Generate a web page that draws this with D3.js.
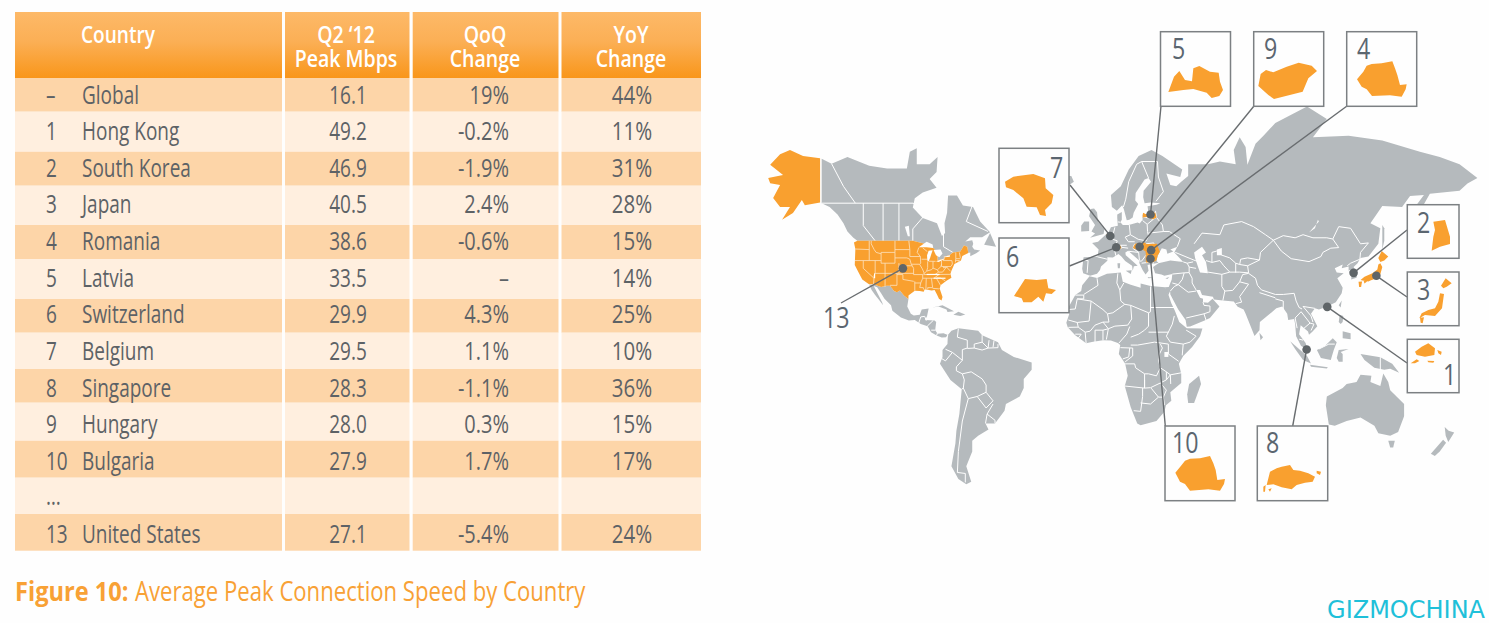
<!DOCTYPE html>
<html>
<head>
<meta charset="utf-8">
<title>Average Peak Connection Speed by Country</title>
<script src="https://cdnjs.cloudflare.com/ajax/libs/d3/7.8.5/d3.min.js"></script>
<style>
  html, body { margin: 0; padding: 0; background: #fefefe; }
  svg { display: block; }
  text { font-family: "Open Sans", sans-serif; }
</style>
</head>
<body>
<script>
// table values
var ranks = ["–", "1", "2", "3", "4", "5", "6", "7", "8", "9", "10", "…", "13"];
var countries = ["Global", "Hong Kong", "South Korea", "Japan", "Romania", "Latvia", "Switzerland", "Belgium", "Singapore", "Hungary", "Bulgaria", "", "United States"];
var peakMbps = [16.1, 49.2, 46.9, 40.5, 38.6, 33.5, 29.9, 29.5, 28.3, 28.0, 27.9, null, 27.1];
var qoqChange = ["19%", "-0.2%", "-1.9%", "2.4%", "-0.6%", "–", "4.3%", "1.1%", "-1.1%", "0.3%", "1.7%", "", "-5.4%"];
var yoyChange = ["44%", "11%", "31%", "28%", "15%", "14%", "25%", "10%", "36%", "15%", "17%", "", "24%"];

// band edges of the rows are not even in the original
var rowEdges = [78, 111.7, 151.7, 185.7, 225, 259, 299, 332.7, 369, 402.7, 440.7, 477.7, 514, 550.7];
var columns = [[15, 282], [285, 409.5], [412.7, 558.5], [561.5, 701]];

// map outlines, lon/lat
var landOutlines = [
  // canada
  [[-141,69.5],[-136,68.6],[-128,69.8],[-117,68.2],[-108,67.7],[-98,67.7],[-96.5,70.7],[-93,71.3],[-93,68.5],[-86.5,68.5],[-82.5,69.8],[-83,67],[-86.5,65.6],[-83,63.7],[-90,62.6],[-94,61.2],[-95,58.9],[-90,56],[-82.8,54.5],[-80.3,50.6],[-78.7,51.5],[-79,54.5],[-77.7,57.5],[-77.2,61.9],[-72.7,61.9],[-69.7,59.4],[-64.6,59],[-61,55],[-56,51.8],[-60,50.2],[-66,50.2],[-68.5,48.8],[-65,49.2],[-64.5,48],[-65,47],[-64,46],[-61,45.7],[-63,44.7],[-66,43.6],[-66,45],[-67,44.8],[-67.5,47],[-69.2,47.4],[-71,45.3],[-74.8,45],[-76.5,44],[-79,43.5],[-79,42.8],[-82.5,42],[-82.5,45],[-84.5,46.5],[-89,48],[-95,49],[-123,49],[-125,50],[-128,52],[-130,54.5],[-133,57],[-137,59],[-141,60]],
  // mexico and central america
  [[-117.1,32.5],[-115.8,30],[-114.2,28],[-112,25.5],[-110,23],[-110.5,24.5],[-112.5,28],[-114.7,31.7],[-113,31.2],[-111,28.5],[-109.3,26],[-106,23],[-105.3,20.5],[-101,17.2],[-97,15.8],[-94,16],[-91,14],[-87.5,13],[-85.8,10],[-83,8.3],[-80.4,7.3],[-78.2,7.5],[-77.3,8.6],[-79.5,9.5],[-82.5,9.2],[-83.7,11],[-83.2,15],[-84,15.8],[-88.8,16],[-87.8,18],[-87,21.5],[-90.5,21],[-91.5,18.5],[-94.5,18.2],[-96,19],[-97.8,22.5],[-97.2,25.9],[-99.5,27.5],[-101.5,29.8],[-103,29],[-104.5,29.5],[-106.5,31.8],[-108.2,31.8],[-111,31.3],[-114.8,32.5]],
  // south america
  [[-77.3,8.6],[-75.5,10.7],[-72,12],[-68,11.5],[-62,10.7],[-60,8.5],[-52,5],[-50,1],[-44,-2.5],[-35,-5.3],[-35,-9],[-39,-13.5],[-39,-18],[-41,-22],[-48,-25.5],[-48.7,-28.5],[-53.5,-34],[-58.3,-34],[-56.8,-36.5],[-62,-39],[-65,-41],[-65,-45],[-68,-50],[-65.5,-54.8],[-68,-55.5],[-72,-54],[-75.5,-50],[-73.5,-42],[-73,-37],[-71.5,-30],[-70.3,-18.5],[-76,-14],[-81.3,-6],[-80,-2.5],[-80,1],[-77.5,4]],
  // africa
  [[-5.8,35.8],[-2,35.1],[3,36.8],[10,37.3],[11,33.5],[15,32.3],[20,31],[20,32.8],[25,31.7],[32.3,31.2],[34,28],[35.5,24],[37.3,20.5],[39.5,15],[43.3,12],[51.2,11.8],[50,8],[46,2.5],[41.5,-2],[39.3,-6],[40.5,-11],[40.5,-15.5],[35,-20],[35.5,-24],[32.8,-26],[32,-29],[28,-33],[20,-34.8],[18.3,-34],[15,-27],[12,-17],[13.5,-12],[12.2,-6],[9,-1],[9.7,3.5],[8.5,4.6],[5,5.8],[1,6],[-4,5.2],[-7.5,4.4],[-13,8.5],[-16.8,12.5],[-17.5,14.7],[-16,19],[-17,21],[-13,27.7],[-10,29.5],[-9.5,32]],
  // eurasia
  [[-9,37],[-9.5,38.8],[-8.8,43.2],[-1.8,43.4],[-1.2,46],[-4.5,48.3],[-1.5,48.7],[1.5,50.5],[4,52],[5,53.3],[8.5,53.8],[8.2,56],[8.2,57],[10.5,57.7],[10.5,55.5],[9.8,54.8],[11,54],[14,54],[18.5,54.7],[19.5,54.4],[21,55.5],[21,57],[24,57.2],[23.5,59.2],[28,59.6],[30,60],[25,60.2],[22,60],[21.3,61.5],[21.5,63],[25.3,65],[24,65.8],[22,65.5],[17.5,62.5],[17.3,60.7],[18.8,59.8],[16.5,57.5],[16,56.2],[14.3,55.5],[13,55.4],[11.5,58.5],[10.7,59.5],[8,58],[5.5,59],[5,62],[10,64],[14,67.5],[19,70],[25.5,71],[31,70],[41,67.5],[40,66],[33,66.7],[35,64.3],[38,64],[40.5,65],[44,66.2],[44,68.5],[54,68.5],[60,69],[68,68.5],[67,71],[70,73],[73,71.5],[74,68],[72,66.5],[78,72],[82,73.2],[88,75],[104,77],[114,75.5],[107,73],[125,73.2],[142,72.5],[161,70.7],[171,69.8],[181,68.5],[190,65.8],[185,64.6],[181,63],[166,62.3],[163,59.7],[162,55],[156.7,51],[155.7,57],[163,62],[156,61.8],[152,59],[142,59.3],[136,54.5],[141,53],[140,48],[135,43.5],[131,43],[129.5,41],[127.5,39.5],[129.4,37],[129,35.2],[126.3,34.5],[126.5,37],[125,38],[125,39.7],[121.5,39],[122,40.5],[118,39],[119,37.3],[122.5,37],[119.3,35],[122,31],[121.5,28.5],[118.5,24.5],[114,22.3],[110,21],[108,21.6],[106,19],[109.2,13],[106.8,10.3],[105,8.7],[104.5,10.3],[100.8,13.5],[100,9],[103.3,4.5],[104.2,1.4],[101,3],[98.5,8],[98,14],[97.5,16.5],[94.5,16],[94,19],[91.5,22.5],[88.5,21.7],[86.5,20],[80.2,15],[80,11],[77.5,8.1],[73,19],[72,21],[69,22.3],[67,24.8],[61.5,25.2],[57,25.7],[56.5,27],[51,27.8],[50,30],[48,30],[50,26.5],[51.5,26],[51.5,24.5],[54,24.2],[56.3,26],[59.8,22.5],[55,17],[52,15.6],[45,12.8],[43.3,12.7],[42.7,16],[39,21],[35,28],[34.9,29.5],[34,27.8],[32.6,29.9],[32.3,31.2],[34.2,31.3],[35.7,34.5],[36,36.7],[32,36],[30.5,36.5],[27.3,37],[26.3,39.5],[29,41],[35,42],[41.5,41.5],[37,45],[38.5,47],[35,46],[36.5,45.3],[33.5,44.5],[33,46],[30.7,46.5],[28.7,44],[28,41.8],[29,41.2],[26,40.7],[23.5,40.3],[24,38],[22.5,36.5],[21,38.3],[19.4,41],[19.3,42],[13.7,45.6],[12.3,45],[12.5,44],[16,41.7],[18.5,40],[16.6,39.8],[16,38],[15.7,40],[12.2,41.8],[10.3,43.5],[8.8,44.4],[6,43.1],[3.2,43.2],[3.2,41.9],[0,39.7],[-0.5,38.3],[-2,36.8],[-5.5,36]],
  // australia, new guinea
  [[114,-22],[113.5,-26],[115,-34.5],[118,-35],[124,-33],[131,-31.5],[138,-35],[140,-38],[146,-39],[150,-37.5],[153,-31],[153,-25.5],[146,-19],[145,-15],[142.5,-10.8],[141,-17],[136,-15],[136.5,-12],[131,-11.5],[129,-15],[124,-16],[122,-18]],
  [[131,-1],[141,-2.6],[147,-6],[150.5,-10.5],[146,-8.5],[143,-9],[138,-8],[133,-4]],
  [[145,-41],[148.3,-41],[147.5,-43.5],[146,-43.5]],
  // new zealand
  [[173.5,-35.5],[175.5,-37],[178.3,-37.7],[175.3,-41.5],[174,-39]],
  [[172.7,-40.6],[174.2,-41.7],[171,-45],[168.5,-46.6],[166.5,-45.8]],
  // south east asia
  [[95.5,5.5],[104,-2],[106,-5.8],[102,-4],[98,1.5]],
  [[105.5,-6.5],[114.5,-7.7],[114,-8.3],[106,-7.5]],
  [[109,1],[113,3],[117,7],[119,5],[117.5,1],[116,-4],[111,-3]],
  [[120,1],[125,1.5],[121,0],[122,-1],[122,-5],[120,-5],[119,-3]],
  [[120.5,18.5],[122.3,18],[122,15],[121,14],[120,15]],
  [[122,10.5],[126,9.5],[126,6.5],[122,7]],
  [[120,23],[121.5,25.2],[121,22]],
  // japan's neighbours, sakhalin, sri lanka, madagascar
  [[142,54],[143,53],[143,49],[142,46],[142,50]],
  [[80,9.7],[81.8,7.5],[80.5,6]],
  [[49.5,-12],[50.5,-16],[47,-25],[44,-25],[43.5,-21],[44.5,-16]],
  // islands of the atlantic and europe
  [[-24,65.5],[-22,66.3],[-15,66.2],[-13.7,65],[-19,63.4],[-22.5,63.9]],
  [[-5.5,50],[1.3,51.2],[1.7,52.7],[-1.5,55],[-2,57.6],[-3.5,58.6],[-5.2,58.5],[-6,56.5],[-3,54],[-4.8,52],[-3,51.4]],
  [[-10,52],[-6,52.2],[-6,55],[-8.5,55],[-10,53.8]],
  [[-59,47.7],[-56,51.5],[-53,47]],
  [[-85,22],[-80,23],[-74.2,20.2],[-77.5,19.9],[-78,21],[-82,22.5]],
  [[-74.5,18.5],[-72,20],[-68.5,18.7],[-71,18]],
  [[12.5,38],[15.5,38.2],[15,36.7]],
  [[8.3,41],[9.7,41],[9.5,39],[8.5,39]],
  [[23.5,35.5],[26.3,35.2],[24,35]],
  [[32.5,35],[34.5,35.5],[33.5,34.7]]
];

// lakes and seas cut out of the land
var lakeOutlines = [
  [[47,45],[51,47],[53,45],[51,44],[53,41.5],[54,37],[50,37.3],[49,39.5],[47.5,43]],
  [[58.5,46],[61,46.6],[61,44],[58.5,44]],
  [[32,0],[34,0],[34,-2.5],[32,-2.5]],
  [[-92,46.8],[-88,48.7],[-85,47.8],[-84.7,46.6],[-88,46.8]],
  [[-87.7,42],[-87,41.7],[-86.3,43],[-85,45.8],[-87,45.6],[-87.8,44]],
  [[-84.5,45.9],[-81,46],[-80,44.6],[-81.6,43.2],[-83.3,44]],
  [[-83.3,41.7],[-79,42.8],[-79,42.5],[-82,41.5]],
  [[-79.7,43.3],[-76.2,44],[-76.3,43.4],[-79,43.2]],
  [[-99,53.5],[-97,53.8],[-96.5,50.5],[-97.5,50.5]],
  [[108,53],[109.5,55.5],[110,55],[105,51.7]]
];

var usOutline = [[-124.7,48.4],[-123,49],[-95,49],[-89,48],[-84.5,46.5],[-82.5,45],[-82.5,42],[-79,42.8],[-79,43.5],[-76.5,44],[-74.8,45],[-71,45.3],[-69.2,47.4],[-67.5,47],[-67,44.8],[-70,43.7],[-70.7,42],[-74,40.7],[-75.5,38],[-76,36.8],[-75.5,35.2],[-78,33.9],[-81,32],[-81.4,30.5],[-80,26.8],[-80.5,25.2],[-81.8,26],[-82.8,28],[-84,30],[-85.5,29.7],[-89,30.3],[-89.5,29.2],[-91.5,29.5],[-94,29.6],[-97.2,27.5],[-97.2,25.9],[-99.5,27.5],[-101.5,29.8],[-103,29],[-104.5,29.5],[-106.5,31.8],[-108.2,31.8],[-111,31.3],[-114.8,32.5],[-117.1,32.5],[-120.5,34.5],[-122.5,37.5],[-124.3,40.3],[-124,46.2]];
var alaskaOutline = [[-141.8,69.6],[-150.4,70],[-157,71],[-162,70.3],[-167,68.4],[-160.5,66.4],[-168,65.8],[-167,64.7],[-162,64.3],[-165.5,61.3],[-162,59],[-157,59],[-161,55.5],[-155.5,57.4],[-151,60.8],[-149.5,59.5],[-141.8,60.2]];
var japanOutlines = [
  [[141,41.5],[140,43],[141.7,45.5],[145,43.5],[143,42]],
  [[141,41],[142,39.5],[140.8,36],[139,35],[136,34],[135,33.6],[132,34],[131,34.3],[133,35.6],[137,37],[139.5,38.5],[140,40.5]],
  [[130,33.5],[131.8,33.6],[131.3,31.3],[130.3,31.3]],
  [[132.6,33.8],[134.6,34.2],[134,33.4],[133,32.8]]
];
var highlightOutlines = [
  [[21,56.2],[21.2,57.5],[23,57],[24.3,57.2],[24.3,57.9],[27.4,57.5],[28.1,56.2],[26.5,55.7],[23,56.3]], // latvia
  [[20.3,46.2],[22.9,47.9],[28.2,48],[29.7,45.2],[28.6,43.8],[22.7,44],[22.4,45.4]], // romania
  [[16.2,46.8],[17.2,48],[22.1,48.4],[22.9,47.9],[20.3,46.2],[18.8,45.9],[16.5,46.4]], // hungary
  [[22.5,44],[28.6,43.8],[28,42],[26.2,41.4],[22.7,41.3]], // bulgaria
  [[6,46.2],[7.5,47.6],[9.6,47.5],[10.4,46.6],[8.5,45.9]], // switzerland
  [[2.6,51],[4.3,51.4],[6,50.7],[5.8,49.6],[4.2,50]] // belgium
];

// inner borders as open lines
var stateLines = [
  [[-124,46.2],[-117,46]],[[-117,49],[-117,42]],[[-124.2,42],[-111,42]],[[-120,42],[-120,39],[-114.6,35]],[[-114,42],[-114,37],[-114.6,36],[-114.6,35],[-114.8,32.5]],
  [[-109,41],[-109,31.3]],[[-114,37],[-94.6,37]],[[-111,45],[-111,41],[-104,41],[-104,45],[-111,45]],[[-116,49],[-116,48],[-114.5,46],[-113.5,45],[-111,44.5]],[[-104,49],[-104,45]],
  [[-104,46],[-96.5,46]],[[-104,43],[-98,43],[-96.5,42.5]],[[-102,41],[-102,40],[-95.3,40]],[[-102,40],[-102,37]],[[-103,37],[-103,32],[-106.5,32]],[[-103,36.5],[-100,36.5],[-100,34.5],[-94.5,33.7]],
  [[-97,49],[-96.5,46],[-96.5,43.5],[-91.2,43.5]],[[-95.8,40.6],[-91.5,40.6]],[[-96.5,42.5],[-95.8,40.6],[-95.3,40],[-94.6,39],[-94.6,36.5],[-90,36.5]],[[-94,33],[-91,33]],[[-94,33.7],[-94,29.7]],
  [[-92,46.7],[-92.8,45],[-91.2,43.5],[-91,41],[-91.5,40.5],[-90.2,38.8],[-89.2,37],[-90,36.5],[-90,35],[-91,33],[-91.5,31],[-89.7,31],[-89.6,30.2]],
  [[-90,46.6],[-87.7,45.3]],[[-90.6,42.5],[-87.8,42.5]],[[-87.5,41.7],[-87.5,39.3],[-88,37.9]],[[-89.2,37],[-88,37.9],[-85.5,38.5],[-84.8,39.1],[-82.6,38.4],[-80.8,39.7],[-80.5,40.6]],[[-84.8,41.7],[-84.8,39.1]],[[-87,41.75],[-83.5,41.7]],
  [[-90,35],[-84.3,35],[-81.7,36.6]],[[-89.5,36.5],[-75.9,36.6]],[[-83.7,36.6],[-82,37.5],[-82.6,38.4]],[[-80.5,42],[-80.5,39.7],[-75.7,39.7]],[[-79.8,42],[-75.3,42],[-75,40.7],[-75.7,39.8]],
  [[-88.2,35],[-88.4,30.3]],[[-85.6,35],[-85,31],[-87.5,31],[-87.4,30.3]],[[-85,30.7],[-82,30.5],[-81.5,30.7]],[[-83.1,35],[-81,32]],[[-83,35.2],[-81,35.1],[-78.6,33.9]],[[-82,37.5],[-80,37.5],[-78,39.5]],[[-79.5,39.7],[-79.5,39.2],[-77.8,39.5],[-77,38.6],[-76,38]],
  [[-73.3,45],[-73.3,42.7],[-73.5,41.3]],[[-73.3,42.7],[-71,42.7]],[[-71.5,45],[-71,43]],[[-73.5,42],[-71.5,42],[-71.8,41.3]]
];
// the few state lines that show as solid white slits
var slitLines = [[[-114.3,37],[-114.3,35]],[[-88,36.55],[-81.5,36.55]],[[-84.5,35],[-78.5,35]]];
var canadaLines = [
  [[-141.8,69.6],[-141.8,60.2]],[[-141,60],[-94.8,60]],[[-136,68.6],[-130,64],[-124,60]],[[-120,60],[-120,53.8],[-114,49]],[[-110,60],[-110,49]],[[-102,60],[-102,49]],[[-94.8,60],[-89,56.8],[-95,52.8],[-95,49]],[[-79.5,51.5],[-79.5,47],[-74.8,45]],[[-64.5,60],[-68,55],[-57,52]]
];
var borderLines = [
  // americas
  [[-117.1,32.5],[-114.8,32.5]],[[-92,14.5],[-91,17.5],[-89,17.8]],[[-89,17.8],[-88.2,15.7]],[[-87.7,13],[-84.7,15.8]],[[-85.7,11],[-83.7,11]],[[-83,8.3],[-82.6,9.5]],[[-77.9,7.2],[-77.3,8.6]],
  [[-72,11.8],[-72.5,7.5],[-67.5,6],[-67.5,2],[-70,1.2],[-70,-4.2]],[[-70,-4.2],[-75,-0.2],[-78.5,1.4]],[[-75,-0.2],[-78.5,-4.5],[-80.3,-3.4]],[[-60,8.5],[-60,5],[-57,2],[-56.5,6]],[[-54,5.8],[-54.5,2.4]],[[-52,4],[-52,2.2],[-57,2],[-60,1],[-64,2],[-67.5,1.8]],[[-60,5],[-64,4],[-64,2]],
  [[-70,-4.2],[-73,-7.5],[-73,-9.5],[-70,-11]],[[-70,-11],[-65.5,-10],[-60,-13.5],[-58,-16.5],[-58,-20],[-62.5,-22],[-67,-23],[-69.5,-18],[-69,-14],[-70,-11]],[[-70.3,-18.5],[-69.5,-18]],[[-67,-23],[-70,-33],[-72,-45],[-72.5,-52],[-68.5,-52.3],[-68.5,-55]],[[-58,-20],[-54.5,-24],[-58,-27.3],[-62.5,-22]],[[-54.5,-25.5],[-57.5,-30]],[[-57.5,-30],[-53.5,-32.7],[-53.5,-34]],[[-57.5,-30],[-58.3,-34]],
  // africa
  [[-2,35],[-1.5,32],[-8.7,28]],[[-8.7,27.7],[-13,27.7]],[[-8.7,27.7],[-8.7,26],[-12,26],[-13,21.3],[-17,21]],[[-12,26],[-5,25],[-6,15.5],[-12,14.8],[-16.5,16]],[[-5,25],[1,21],[3.3,19]],[[3.3,19],[6,19.5],[12,23.5]],[[12,23.5],[10,25],[9.5,30],[8,33],[8.5,37]],[[9.5,30],[11.5,33]],[[25,31.5],[25,20]],[[25,20],[24,19.5],[15,23],[12,23.5]],[[25,22],[37,22]],[[15,23],[15.5,16.5],[13.5,13.5]],[[24,19.5],[24,13],[22,11]],[[15,7.5],[19,9],[22,11]],[[3.7,11.7],[7,13],[13.5,13.5]],[[14.5,12.8],[13,9],[9,4.5]],[[3.3,19],[4,15],[1,15],[3.7,11.7]],[[-5.5,10.5],[-3,13.5],[1,15]],[[-12,14.8],[-11.5,12.5]],[[-11.5,12.5],[-8,10],[-5.5,10.5]],[[-3,11],[1,11],[3.7,11.7]],[[-3,11],[-3,5]],[[1,11],[1,6]],[[3.7,11.7],[2.7,6.3]],[[-8,10],[-7.5,4.4]],[[-11.5,7],[-10,9],[-13,9]],[[-16.5,12.4],[-11.5,12.5]],[[24,10],[34,10]],[[37,18],[36,14],[33,8],[35,5]],[[43,11],[48,8],[45,5],[41.5,4]],[[35,5],[41.5,4],[41,-1.7]],[[34,4],[34,-1]],[[34,-1],[39.2,-4.7]],[[15,3.5],[18.5,3.5],[27,5],[34,4]],[[9.8,2.2],[16,2]],[[14.5,2],[14,-2.5],[11,-3.5]],[[16,2],[16,-2],[12.2,-5]],[[12.2,-6],[17,-6],[17.5,-8],[22,-11],[24,-11],[28,-12],[30,-8],[29,-4],[29.5,-1],[31,2],[30,4]],[[22,-11],[22,-18],[12,-17]],[[22,-14],[22,-18],[25,-17.8],[30,-15.5],[33,-14],[33,-10],[30,-8]],[[21,-18],[21,-22],[20,-28.8],[16.5,-28.5]],[[20,-25],[25,-25.5],[29,-22.3]],[[25.3,-18],[29,-22.3],[31.5,-22.3],[33,-19],[30,-15.5]],[[31.5,-22.3],[32,-26]],[[33,-14],[35,-11.5],[40.5,-10.5]],[[33,-10],[35,-11.5],[35.2,-16]],
  // europe
  [[-1.8,43.4],[3.2,42.5]],[[-8.8,42],[-6.5,42],[-7,37.2]],[[2.5,51],[6,49.5],[8.2,49],[7.5,47.6]],[[7.5,47.6],[6.8,46],[7.5,43.8]],[[7.5,47.6],[10,47.5],[10.4,46.5],[8.5,46],[6.8,46]],[[7,53.3],[6,50.8],[6,49.5]],[[14.3,54],[14.8,51]],[[14.8,51],[12.2,50.2],[13.8,48.7]],[[13,47.5],[10,47.5]],[[10.4,46.8],[13.7,46.5]],[[13.8,48.7],[17,48.7]],[[14.8,51],[18.8,49.5],[22.8,49]],[[17,48],[16.2,46.8]],[[22.8,49],[24,50.5],[23.5,52],[23.3,54.2]],[[21,55.3],[23.3,54.2],[26.5,55.7],[28,56.2],[27.5,58]],[[24.3,57.9],[27.5,57.5]],[[21,56.4],[26.5,55.7]],[[28,56.2],[31,54],[31.5,52],[24,51.5]],[[31.5,52],[34.5,52],[40,49.7],[38.5,47]],[[26.6,48.3],[28.2,45.5]],[[22.8,48],[26.6,48.3]],[[16,46.5],[19,45],[19.4,42]],[[14,45.4],[19,45]],[[22.7,44],[20.5,41.8],[19.4,41.8]],[[20.5,41],[26.3,41.5]],[[28.5,69],[29,66],[31.5,62.8],[27.8,60.5]],[[11.3,59],[12.5,61],[14,65],[18,68.5],[20.5,69],[28.5,69]],[[20.5,69],[24,65.8]],[[8.5,54.9],[9.8,54.8]],[[26.3,41.7],[26.3,40.7]],
  // middle east and central asia
  [[36,36.7],[42,37.2]],[[42,37.2],[44.5,37.3],[44.5,39.5]],[[41.5,41.5],[43.5,41],[44.5,39.5]],[[37.5,45],[47.5,42],[48.5,41.8]],[[43.5,41],[46.5,41.5]],[[44.5,39.5],[48,39]],[[44.5,37.3],[46,35],[46,33],[48,30]],[[42,37.2],[41,34.5],[39,32.3]],[[39,32.3],[37,31.5],[35,29.5]],[[36,33],[39,32.3]],[[39,32.3],[44,29],[48,29.5]],[[43,17],[52,19],[55,20],[55,22.7],[52,23],[51.5,24.5]],[[52,19],[53,16]],[[61,36.6],[61,31.5],[62.5,29.5],[61.5,25.2]],[[54,37.5],[61,36.6]],[[62.5,29.5],[66.5,29.8],[70,33.5],[71.5,36.5],[74.5,37]],[[61,36.6],[65,37.5],[70,37.5],[74.5,37.2]],[[47,48],[51,51.5],[60,51],[62,54],[71,55],[77,53.5],[83,51],[87,49.2]],[[87,49.2],[80.5,45],[80,42.2]],[[80,42.2],[74,40],[70,40.5],[70.5,42.5],[74,43],[80,42.2]],[[53,42],[56,41.3],[56,45],[58.5,45.5],[61,44],[65,43],[68,41],[70,40.5]],[[56,41.3],[60,42],[62,40],[65,37.5]],[[68,41],[68,37.3]],[[74,40],[74.5,37.2]],
  // east and south asia
  [[87,49.2],[92,50.7],[98,50],[102,51],[107,50],[114,50],[117,49.6],[120,46.7]],[[87,49.2],[91,45.5],[96,42.7],[105,41.6],[111,43.5],[112,45],[116,46.5],[120,46.7]],[[117,49.6],[120,53.5],[126,53],[131,48],[135,48.3],[131,45],[130.7,42.5]],[[130.7,42.5],[126,41],[124.3,40]],[[125,38],[128.4,38.6]],[[74.5,37],[78,35],[79,32],[81,30],[88,28],[92,28],[97.5,28.5]],[[80,28.8],[88,26.5]],[[88,26],[92,25],[92,21]],[[70,33.5],[74.5,32.5],[70,27],[71,24.5],[68,23.8]],[[97.5,28.5],[98.5,25],[100,22],[101.5,21.3]],[[102,22.5],[106,18],[107,15]],[[102,22.5],[108,21.6]],[[101,20],[98,17],[99,12]],[[101,20],[105.5,14.5]],[[102.5,12],[105.5,14.5],[107.5,14]],[[107.5,14],[106,10.8]],[[100,6.5],[102,6]],[[141,-2.6],[141,-9]],[[110,1.5],[115,4],[118,4]]
];

// callouts: where the dot sits, where the leader meets its box
var calloutDots = [[-100,39],[4.7,50.6],[7.7,46.8],[25,57],[19.5,47],[25.3,45.8],[25,42.7],[103.8,1.3],[127.5,37.2],[139,36],[114.2,22.3]];
var calloutEnds = [[841,303],[1070,185],[1069.5,266],[1161,106],[1254,106],[1347,106],[1165.3,426],[1292.7,426],[1407,230],[1407,297],[1407,363]];
var boxCorners = [[999,148.3,1069,222.7],[999,238,1069,312.7],[1160.5,31.7,1230.5,106.3],[1253.7,31.7,1323.7,106.3],[1346.7,31.7,1416.7,106.3],[1165,426,1235,500.7],[1257.3,426,1327.7,500.7],[1407.3,204.7,1459,258.3],[1407.3,272,1459,325.7],[1407.3,339.3,1459,392.7]];
var boxLabels = ["7", "6", "5", "9", "4", "10", "8", "2", "3", "1", "13"];
var labelAnchors = [[1050,178],[1006,267],[1172,59],[1264,59],[1357,59],[1172,453],[1266,453],[1417,233],[1417,300],[1443,385],[823,328]];

// inset shapes traced in zoomed units, origin + scale 1/3
var insets = [
  {origin: [750, 130], rings: [[[765,155],[790,140],[850,132],[885,145],[887,175],[910,195],[905,220],[885,240],[888,258],[870,255],[860,232],[830,230],[820,205],[790,180],[768,172]]]},
  {origin: [750, 130], rings: [[[792,498],[825,447],[860,450],[890,447],[895,475],[918,480],[905,492],[888,490],[880,515],[865,500],[845,517],[820,517],[815,505]]]},
  {origin: [1100, 20], rings: [[[205,216],[222,170],[238,153],[255,180],[276,184],[280,145],[298,138],[330,155],[356,158],[360,185],[369,210],[358,228],[335,234],[320,218],[280,207],[250,210]]]},
  {origin: [1100, 20], rings: [[[475,198],[482,162],[498,150],[520,157],[560,140],[596,128],[635,137],[651,153],[625,175],[608,215],[522,237],[505,225]]]},
  {origin: [1100, 20], rings: [[[771,178],[790,155],[800,137],[815,132],[845,130],[877,124],[885,145],[892,165],[900,195],[920,193],[917,208],[905,230],[870,226],[816,228],[800,208],[785,200]]]},
  {origin: [1100, 300], rings: [[[226,518],[245,495],[255,482],[270,476],[300,475],[330,468],[340,490],[347,510],[352,540],[375,537],[372,552],[360,572],[325,568],[270,572],[255,552],[240,545]]]},
  {origin: [1100, 300], rings: [[[500,555],[510,515],[530,505],[545,500],[570,495],[580,510],[600,512],[625,520],[645,530],[638,545],[615,548],[590,555],[575,568],[545,562],[520,553]],[[650,512],[663,515],[660,525],[650,520]],[[490,560],[497,555],[495,575],[490,575]],[[505,568],[515,565],[510,575]]]},
  {origin: [1100, 20], rings: [[[1000,605],[1035,600],[1050,650],[1050,672],[1020,680],[995,692],[1000,650],[1005,630]]]},
  {origin: [1100, 20], rings: [[[1023,797],[1037,775],[1055,790],[1040,800],[1030,805]],[[1020,820],[1032,822],[1026,865],[1005,888],[975,885],[958,895],[965,880],[985,870],[1005,865],[1015,845]],[[960,893],[972,892],[968,910],[962,908]]]},
  {origin: [1100, 300], rings: [[[945,155],[965,140],[985,130],[1005,145],[1003,165],[975,170],[950,165]],[[932,190],[950,178],[958,183],[945,190]],[[982,182],[1003,183],[1000,188],[985,187]],[[1012,150],[1025,155],[1023,165],[1015,160]]]}
];

var width = 1489, height = 623;
var grey = "#b5babd", orange = "#f9a02f", inkText = "#5d6266";

var svg = d3.select("body").append("svg")
    .attr("width", width)
    .attr("height", height);

var grad = svg.append("defs").append("linearGradient")
    .attr("id", "headFill")
    .attr("x1", 0).attr("y1", 0).attr("x2", 0).attr("y2", 1);
grad.append("stop").attr("offset", "0%").attr("stop-color", "#fdb968");
grad.append("stop").attr("offset", "45%").attr("stop-color", "#fbaf55");
grad.append("stop").attr("offset", "100%").attr("stop-color", "#f9961a");

// text squeezed sideways, the original face is a condensed one
function label(parent, str, x, y, size, anchor, fill, weight, squeeze) {
  return parent.append("text")
      .attr("transform", "translate(" + x + "," + y + ") scale(" + (squeeze || 0.76) + ",1)")
      .attr("text-anchor", anchor)
      .attr("font-size", size)
      .attr("font-weight", weight || 400)
      .attr("fill", fill)
      .text(str);
}

// two line header cell, kept as one text element
function headerCell(lines, x) {
  var t = table.append("text")
      .attr("transform", "translate(" + x + ",43) scale(0.85,1)")
      .attr("text-anchor", "middle")
      .attr("font-size", 23)
      .attr("font-weight", 600)
      .attr("fill", "#fff");
  lines.forEach(function(s, i) {
    t.append("tspan").attr("x", 0).attr("dy", i ? 24 : 0).text(s);
  });
}

// ---- table ----
var table = svg.append("g").attr("id", "table");
var baseline = d3.scaleLinear().domain([0, 12]).range([103.5, 543]);

columns.forEach(function(c) {
  table.append("rect")
      .attr("x", c[0]).attr("y", 12)
      .attr("width", c[1] - c[0]).attr("height", 66)
      .attr("fill", "url(#headFill)");

  table.selectAll(null)
    .data(d3.pairs(rowEdges))
    .enter().append("rect")
      .attr("x", c[0])
      .attr("y", function(d) { return d[0]; })
      .attr("width", c[1] - c[0])
      .attr("height", function(d) { return d[1] - d[0]; })
      .attr("fill", function(d, i) { return i % 2 ? "#ffefdf" : "#fdd5a8"; });
});

label(table, "Country", 81, 43, 23, "start", "#fff", 600, 0.83);
headerCell(["Q2 ‘12", "Peak Mbps"], 346);
headerCell(["QoQ", "Change"], 485);
headerCell(["YoY", "Change"], 631);

ranks.forEach(function(r, i) {
  var y = baseline(i);
  var rank = label(table, r, 46, r === "…" ? y - 1 : y, 25, "start", inkText);
  if (r === "…") rank.attr("letter-spacing", 1.5);
  label(table, countries[i], 82, y, 25, "start", inkText);
  if (peakMbps[i] !== null) label(table, peakMbps[i].toFixed(1), 348, y, 25, "middle", inkText);
  label(table, qoqChange[i], 509, y, 25, "end", inkText, 400, 0.8);
  label(table, yoyChange[i], 632, y, 25, "middle", inkText, 400, 0.82);
});

label(svg, "Figure 10:", 15, 601, 27, "start", "#f8a135", 700, 0.875);
label(svg, "Average Peak Connection Speed by Country", 135, 601, 27, "start", "#f8a135", 400, 0.82);

// ---- map ----
var xMap = d3.scaleLinear().domain([0, 100]).range([1101, 1101 + 198.1]);
var yMap = d3.scaleLinear().domain([0, 1]).range([352, 352 - 113]);
function mercY(lat) { return Math.log(Math.tan(Math.PI / 4 + lat * Math.PI / 360)); }

var planar = d3.geoTransform({
  point: function(lon, lat) { this.stream.point(xMap(lon), yMap(mercY(lat))); }
});
var path = d3.geoPath(planar);
function ring(points) { return {type: "Polygon", coordinates: [points.concat([points[0]])]}; }
function line(points) { return {type: "LineString", coordinates: points}; }

var map = svg.append("g").attr("id", "map");

map.append("g").selectAll("path")
  .data(landOutlines)
  .enter().append("path")
    .attr("d", function(d) { return path(ring(d)); })
    .attr("fill", grey);

map.append("g").selectAll("path")
  .data(borderLines.concat(canadaLines))
  .enter().append("path")
    .attr("d", function(d) { return path(line(d)); })
    .attr("fill", "none")
    .attr("stroke", "#fff")
    .attr("stroke-width", 1);

map.append("g").selectAll("path")
  .data([usOutline, alaskaOutline].concat(japanOutlines, highlightOutlines))
  .enter().append("path")
    .attr("d", function(d) { return path(ring(d)); })
    .attr("fill", orange);

map.append("g").selectAll("path")
  .data(lakeOutlines)
  .enter().append("path")
    .attr("d", function(d) { return path(ring(d)); })
    .attr("fill", "#fefefe");

map.append("g").selectAll("path")
  .data(stateLines)
  .enter().append("path")
    .attr("d", function(d) { return path(line(d)); })
    .attr("fill", "none")
    .attr("stroke", "#fde3c2")
    .attr("stroke-width", 0.8);

map.append("g").selectAll("path")
  .data(slitLines)
  .enter().append("path")
    .attr("d", function(d) { return path(line(d)); })
    .attr("fill", "none")
    .attr("stroke", "#fff")
    .attr("stroke-width", 1.2);

// ---- callouts ----
var callouts = svg.append("g").attr("id", "callouts");

callouts.selectAll("line")
  .data(calloutDots)
  .enter().append("line")
    .attr("x1", function(d) { return xMap(d[0]); })
    .attr("y1", function(d) { return yMap(mercY(d[1])); })
    .attr("x2", function(d, i) { return calloutEnds[i][0]; })
    .attr("y2", function(d, i) { return calloutEnds[i][1]; })
    .attr("stroke", "#696d70")
    .attr("stroke-width", 1.4);

callouts.selectAll("circle")
  .data(calloutDots)
  .enter().append("circle")
    .attr("cx", function(d) { return xMap(d[0]); })
    .attr("cy", function(d) { return yMap(mercY(d[1])); })
    .attr("r", 4.3)
    .attr("fill", "#5f6568");

callouts.selectAll("rect")
  .data(boxCorners)
  .enter().append("rect")
    .attr("x", function(d) { return d[0]; })
    .attr("y", function(d) { return d[1]; })
    .attr("width", function(d) { return d[2] - d[0]; })
    .attr("height", function(d) { return d[3] - d[1]; })
    .attr("fill", "#fefefe")
    .attr("stroke", "#7c8083")
    .attr("stroke-width", 1.5);

insets.forEach(function(inset) {
  var local = d3.geoIdentity().scale(1 / 3).translate(inset.origin);
  callouts.append("path")
      .attr("d", d3.geoPath(local)({type: "MultiPolygon", coordinates: inset.rings.map(function(r) { return [r.concat([r[0]])]; })}))
      .attr("fill", orange);
});

boxLabels.forEach(function(t, i) {
  label(callouts, t, labelAnchors[i][0], labelAnchors[i][1], 29, "start", "#5b6670", 400, 0.8);
});

svg.append("text")
    .attr("x", 1485).attr("y", 618)
    .attr("text-anchor", "end")
    .style("font-family", "'DejaVu Sans'")
    .attr("font-size", 24)
    .attr("fill", "#1fc0d9")
    .text("GIZMOCHINA");
</script>
</body>
</html>
